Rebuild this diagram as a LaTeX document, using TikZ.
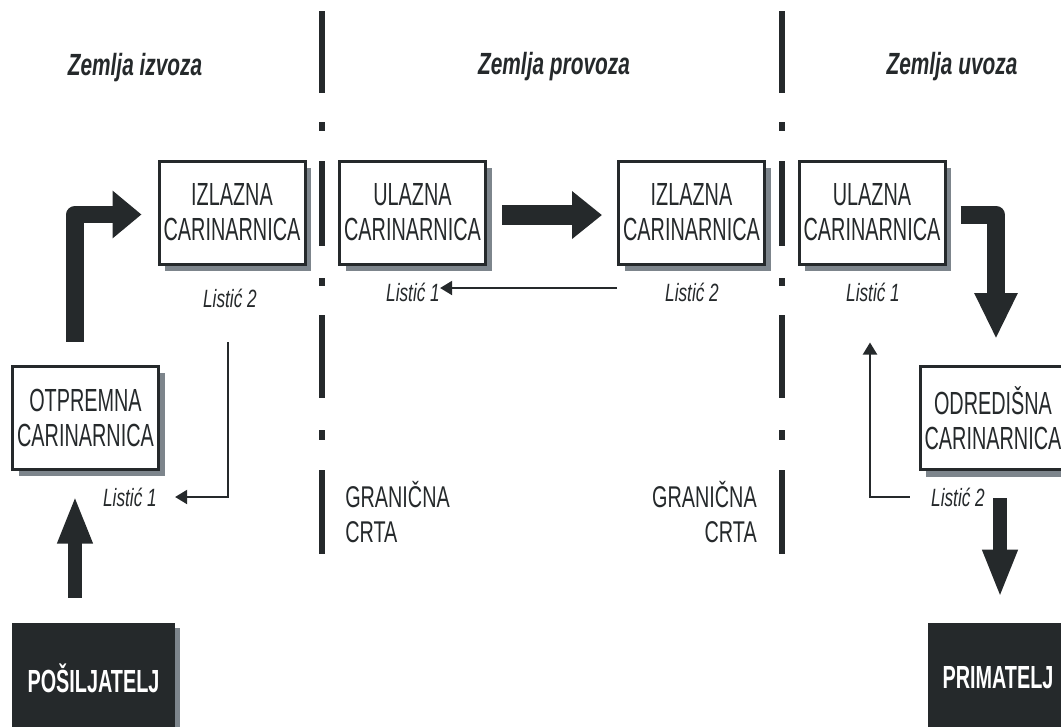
\documentclass[tikz,border=0pt]{standalone}
\usepackage{fontspec}
\setmainfont{Liberation Sans}
\newfontfamily\boxfont[FakeStretch=0.62]{Liberation Sans}
\newfontfamily\grfont[FakeStretch=0.66]{Liberation Sans}
\newfontfamily\titlefont[FakeStretch=0.68]{Liberation Sans}
\newfontfamily\lisfont[FakeStretch=0.69]{Liberation Sans}
\usetikzlibrary{arrows.meta,shadows}
\definecolor{ink}{HTML}{25292B}
\definecolor{shade}{HTML}{7D858C}
\begin{document}
\begin{tikzpicture}[x=0.75pt,y=-0.75pt,
  cbox/.style={draw=ink, line width=2.25pt, fill=white, minimum width=109.5pt,
    minimum height=77.25pt, inner sep=0pt, align=center, text=ink,
    font=\boxfont\fontsize{24}{26.25}\selectfont,
    drop shadow={shadow xshift=4.5pt, shadow yshift=-5.25pt, fill=shade, opacity=1}},
  bbox/.style={fill=ink, draw=none, text=white, inner sep=0pt,
    minimum height=82.5pt, font=\boxfont\bfseries\fontsize{24}{26}\selectfont,
    drop shadow={shadow xshift=3.75pt, shadow yshift=-3.75pt, fill=shade, opacity=1}},
  ttl/.style={font=\titlefont\bfseries\itshape\fontsize{23}{26}\selectfont, text=ink, inner sep=0pt},
  lis/.style={font=\lisfont\itshape\fontsize{18.75}{20}\selectfont, text=ink, inner sep=0pt},
  gr/.style={font=\grfont\fontsize{22.5}{26.25}\selectfont, text=ink, inner sep=0pt},
  border/.style={draw=ink, line width=4pt},
  hfat/.style={draw=ink, line width=15pt, -{Triangle[width=34.5pt,length=22.5pt]}},
  vfat/.style={draw=ink, line width=10.5pt, -{Triangle[width=24pt,length=36pt]}},
  elbowL/.style={draw=ink, line width=13pt, line join=round, -{Triangle[width=34.5pt,length=21.75pt]}},
  elbowR/.style={draw=ink, line width=14pt, line join=round, -{Triangle[width=30pt,length=34.5pt]}},
  thinarr/.style={draw=ink, line width=1.5pt, -{Triangle[width=10.5pt,length=9pt]}}
]
\useasboundingbox (0,0) rectangle (1061,726);

% border lines
\foreach \x in {322,782} {
  \draw[border] (\x,11)--(\x,93) (\x,122)--(\x,131) (\x,161)--(\x,246)
    (\x,278)--(\x,286) (\x,315)--(\x,398) (\x,430)--(\x,440) (\x,470)--(\x,554);
}

% titles
\node[ttl, anchor=base] (t1) at (135,75) {Zemlja izvoza};
\node[ttl, anchor=base] (t2) at (554,74) {Zemlja provoza};
\node[ttl, anchor=base] (t3) at (952,74) {Zemlja uvoza};

% boxes
\node[cbox] (IZL1) at (232,212.5) {IZLAZNA\\CARINARNICA};
\node[cbox] (OTP) at (85.5,417.5) {OTPREMNA\\CARINARNICA};
\node[cbox] (ULA1) at (412.5,212.5) {ULAZNA\\CARINARNICA};
\node[cbox] (IZL2) at (691.5,212.5) {IZLAZNA\\CARINARNICA};
\node[cbox] (ULA2) at (872,212.5) {ULAZNA\\CARINARNICA};
\node[cbox] (ODR) at (993,418) {ODREDIŠNA\\CARINARNICA};
\node[bbox, minimum width=122.25pt] (POS) at (93.5,678) {POŠILJATELJ};
\node[bbox, minimum width=105pt] (PRI) at (998,678) {PRIMATELJ};

% labels
\node[lis] (L2a) at (230,298) {Listić 2};
\node[lis] (L1a) at (130,497) {Listić 1};
\node[lis] (L1b) at (413,292) {Listić 1};
\node[lis] (L2b) at (692,292) {Listić 2};
\node[lis] (L1c) at (873,292) {Listić 1};
\node[lis] (L2c) at (958,497) {Listić 2};

\node[gr, anchor=base west] (g1) at (345,507) {GRANIČNA};
\node[gr, anchor=base west] (g2) at (345,542) {CRTA};
\node[gr, anchor=base east] (g3) at (757,507) {GRANIČNA};
\node[gr, anchor=base east] (g4) at (757,542) {CRTA};

% fat arrows
\draw[vfat] ([xshift=-13.9pt,yshift=18.75pt]POS.north) -- ([xshift=-7.9pt,yshift=-18.75pt]OTP.south);
\draw[elbowL] ([xshift=-7.9pt,yshift=17.25pt]OTP.north) |- ([xshift=-12pt,yshift=-1.5pt]IZL1.west);
\draw[hfat] ([xshift=11.25pt,yshift=-1.9pt]ULA1.east) -- ([xshift=-11.25pt,yshift=-1.9pt]IZL2.west);
\draw[elbowR] ([xshift=10.5pt,yshift=-1.9pt]ULA2.east) -| ([xshift=2.25pt,yshift=19.5pt]ODR.north);
\draw[vfat] ([xshift=5.25pt,yshift=-20.25pt]ODR.south) -- ([xshift=1.5pt,yshift=18.75pt]PRI.north);

% thin arrows
\coordinate (a1) at (228,342);
\draw[thinarr] (a1) |- ([xshift=13.5pt]L1a.east);
\coordinate (b1) at (617,288);
\draw[thinarr] (b1) -- (L1b.east |- b1);
\draw[thinarr] ([xshift=-15.75pt]L2c.west) -| ([xshift=-1.5pt,yshift=-57.75pt]ULA2.south);
\end{tikzpicture}
\end{document}
